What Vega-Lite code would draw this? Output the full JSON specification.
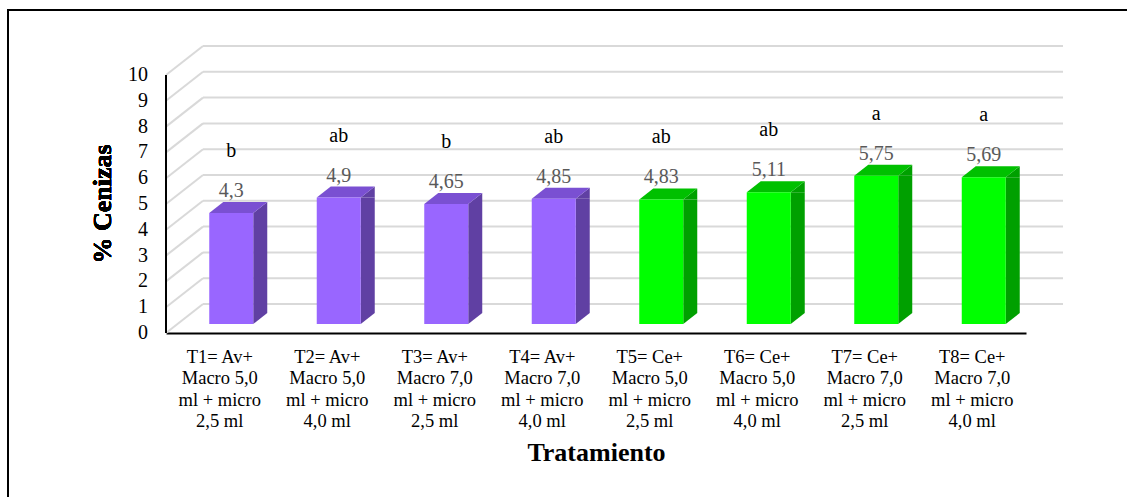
{
  "$schema": "https://vega.github.io/schema/vega-lite/v6.json",
  "width": 1119,
  "height": 487,
  "autosize": "none",
  "padding": {"left": 8, "top": 10, "right": 0, "bottom": 0},
  "background": "#ffffff",
  "config": {
    "view": {"stroke": "#000000", "strokeWidth": 2, "strokeDash": [1119, 1606, 487, 20]},
    "locale": {"number": {"decimal": ",", "thousands": ".", "grouping": [3], "currency": ["", " €"]}},
    "font": "Liberation Serif"
  },
  "datasets": {
    "tratamientos": [
      {"trat": "T1= Av+\nMacro 5,0\nml + micro\n2,5 ml", "grupo": "Av", "ceniza": 4.3, "letra": "b"},
      {"trat": "T2= Av+\nMacro 5,0\nml + micro\n4,0 ml", "grupo": "Av", "ceniza": 4.9, "letra": "ab"},
      {"trat": "T3= Av+\nMacro 7,0\nml + micro\n2,5 ml", "grupo": "Av", "ceniza": 4.65, "letra": "b"},
      {"trat": "T4= Av+\nMacro 7,0\nml + micro\n4,0 ml", "grupo": "Av", "ceniza": 4.85, "letra": "ab"},
      {"trat": "T5= Ce+\nMacro 5,0\nml + micro\n2,5 ml", "grupo": "Ce", "ceniza": 4.83, "letra": "ab"},
      {"trat": "T6= Ce+\nMacro 5,0\nml + micro\n4,0 ml", "grupo": "Ce", "ceniza": 5.11, "letra": "ab"},
      {"trat": "T7= Ce+\nMacro 7,0\nml + micro\n2,5 ml", "grupo": "Ce", "ceniza": 5.75, "letra": "a"},
      {"trat": "T8= Ce+\nMacro 7,0\nml + micro\n4,0 ml", "grupo": "Ce", "ceniza": 5.69, "letra": "a"}
    ],
    "marcas": [
      {"v": 0}, {"v": 1}, {"v": 2}, {"v": 3}, {"v": 4}, {"v": 5},
      {"v": 6}, {"v": 7}, {"v": 8}, {"v": 9}, {"v": 10}
    ]
  },
  "resolve": {"scale": {"x": "independent"}},
  "layer": [
    {
      "data": {"name": "marcas"},
      "encoding": {
        "x": {"datum": 0, "type": "quantitative", "scale": {"domain": [0, 1], "range": [158, 1018]}, "axis": null},
        "y": {
          "field": "v", "type": "quantitative",
          "scale": {"domain": [0, 10], "range": [323, 65], "nice": false},
          "axis": null
        }
      },
      "layer": [
        {
          "mark": {"type": "rule", "color": "#d9d9d9", "strokeWidth": 2, "xOffset": 37, "x2Offset": 37, "yOffset": -29},
          "encoding": {"x2": {"datum": 1}}
        },
        {
          "mark": {"type": "rule", "color": "#d9d9d9", "strokeWidth": 2, "x2Offset": 37, "y2Offset": -29},
          "encoding": {"x2": {"datum": 0}, "y2": {"field": "v"}}
        },
        {
          "mark": {"type": "rule", "color": "#000000", "strokeWidth": 2},
          "encoding": {
            "y": {"datum": 0, "type": "quantitative"},
            "y2": {"datum": 10}
          }
        },
        {
          "mark": {"type": "text", "align": "right", "baseline": "middle", "dx": -18, "font": "Liberation Serif", "fontSize": 20, "color": "#000000"},
          "encoding": {
            "text": {"field": "v", "type": "quantitative"}
          }
        },
        {
          "mark": {"type": "text", "angle": 270, "align": "center", "baseline": "middle", "dx": 0, "dy": -63, "font": "Liberation Serif", "fontSize": 26, "fontWeight": "bold", "color": "#000000"},
          "encoding": {
            "y": {"datum": 5, "type": "quantitative"},
            "text": {"value": "% Cenizas"}
          }
        }
      ]
    },
    {
      "data": {"name": "tratamientos"},
      "encoding": {
        "x": {
          "field": "trat", "type": "nominal", "sort": null,
          "scale": {"range": [158, 1018], "paddingInner": 0, "paddingOuter": 0},
          "axis": {
            "orient": "bottom", "offset": -164, "title": "Tratamiento",
            "domainColor": "#000000", "domainWidth": 2, "ticks": false, "labelAngle": 0,
            "labelExpr": "split(datum.label, '\\n')",
            "labelFont": "Liberation Serif", "labelFontSize": 18.5, "labelColor": "#000000",
            "labelLineHeight": 21.5, "labelPadding": 14, "labelOverlap": false,
            "titleFont": "Liberation Serif", "titleFontSize": 26, "titleFontWeight": "bold",
            "titleColor": "#000000", "titlePadding": 9
          }
        }
      },
      "layer": [
        {
          "mark": {"type": "bar", "width": 14, "xOffset": 40.5, "yOffset": -9, "y2Offset": -20},
          "encoding": {
            "y": {"field": "ceniza", "type": "quantitative", "axis": null},
            "y2": {"datum": 0},
            "fill": {"condition": {"test": "datum.grupo === 'Av'", "value": "#6040a3"}, "value": "#00a000"}
          }
        },
        {
          "mark": {"type": "point", "shape": "M0,0L14,-11L14,0Z", "size": 4, "filled": true, "opacity": 1, "strokeWidth": 0, "xOffset": 33.5, "yOffset": -9},
          "encoding": {
            "y": {"field": "ceniza", "type": "quantitative", "axis": null},
            "fill": {"condition": {"test": "datum.grupo === 'Av'", "value": "#6040a3"}, "value": "#00a000"}
          }
        },
        {
          "mark": {"type": "point", "shape": "M0,0L0,-11L14,-11Z", "size": 4, "filled": true, "opacity": 1, "strokeWidth": 0, "xOffset": 33.5, "yOffset": -9},
          "encoding": {
            "y": {"datum": 0, "type": "quantitative", "axis": null},
            "fill": {"condition": {"test": "datum.grupo === 'Av'", "value": "#6040a3"}, "value": "#00a000"}
          }
        },
        {
          "mark": {"type": "point", "shape": "M0,0L44,0L58,-11L14,-11Z", "size": 4, "filled": true, "opacity": 1, "strokeWidth": 0, "xOffset": -10.5, "yOffset": -9},
          "encoding": {
            "y": {"field": "ceniza", "type": "quantitative", "axis": null},
            "fill": {"condition": {"test": "datum.grupo === 'Av'", "value": "#7a50d2"}, "value": "#00c000"}
          }
        },
        {
          "mark": {"type": "bar", "width": 44, "xOffset": 11.5, "yOffset": -9, "y2Offset": -9},
          "encoding": {
            "y": {"field": "ceniza", "type": "quantitative", "axis": null},
            "y2": {"datum": 0},
            "fill": {"condition": {"test": "datum.grupo === 'Av'", "value": "#9966ff"}, "value": "#00ff00"}
          }
        },
        {
          "mark": {"type": "text", "xOffset": 11.5, "yOffset": -25, "baseline": "alphabetic", "align": "center", "font": "Liberation Serif", "fontSize": 20, "color": "#595959"},
          "encoding": {
            "y": {"field": "ceniza", "type": "quantitative", "axis": null},
            "text": {"field": "ceniza", "type": "quantitative", "format": "~g"}
          }
        },
        {
          "mark": {"type": "text", "xOffset": 11.5, "yOffset": -65, "baseline": "alphabetic", "align": "center", "font": "Liberation Serif", "fontSize": 20, "color": "#000000"},
          "encoding": {
            "y": {"field": "ceniza", "type": "quantitative", "axis": null},
            "text": {"field": "letra", "type": "nominal"}
          }
        }
      ]
    }
  ]
}
